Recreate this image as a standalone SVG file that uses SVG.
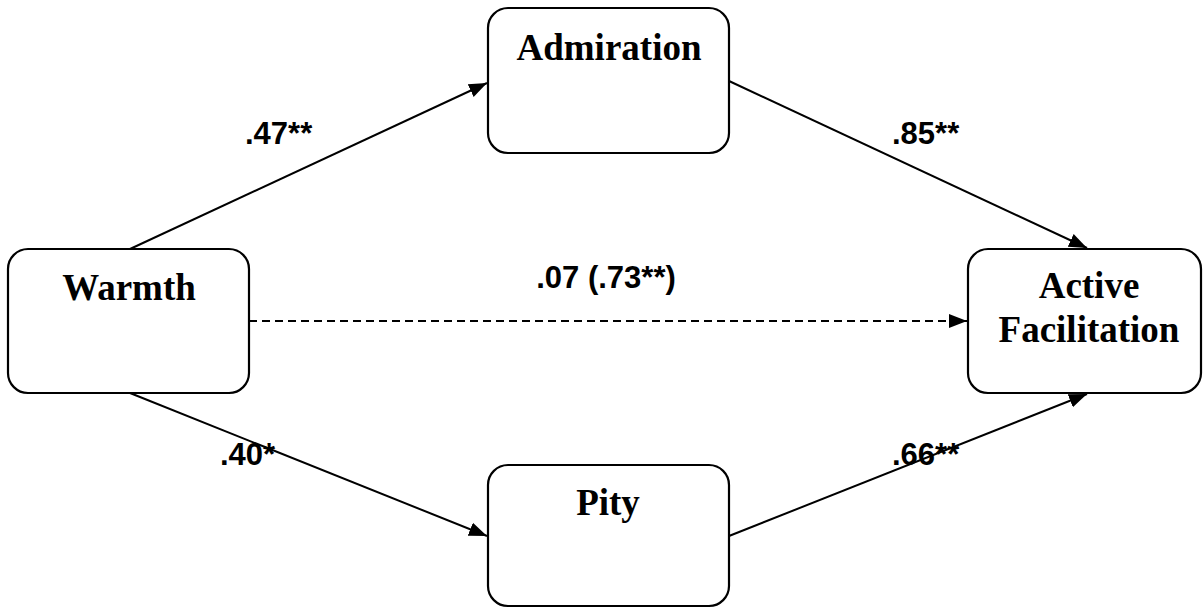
<svg xmlns="http://www.w3.org/2000/svg" width="1204" height="608" viewBox="0 0 1204 608">
  <style>
    .box { fill: #ffffff; stroke: #000000; stroke-width: 2.2; }
    .node-label { font-family: "Liberation Serif", "Times New Roman", serif; font-weight: bold; font-size: 37px; text-anchor: middle; fill: #000000; }
    .edge { stroke: #000000; stroke-width: 2; fill: none; }
    .dashed { stroke-dasharray: 8 5; }
    .coef { font-family: "Liberation Sans", Arial, sans-serif; font-weight: bold; font-size: 31px; fill: #000000; }
  </style>
  <defs>
    <marker id="arrow" markerUnits="userSpaceOnUse" markerWidth="20" markerHeight="16" refX="18" refY="8" orient="auto">
      <path d="M0,1 L18,8 L0,15 Z" fill="#000000"/>
    </marker>
  </defs>

  <g id="connectors">
    <line class="edge" x1="130" y1="249" x2="487" y2="83" marker-end="url(#arrow)"/>
    <line class="edge" x1="729" y1="81" x2="1087" y2="248" marker-end="url(#arrow)"/>
    <line class="edge" x1="130" y1="393" x2="487" y2="536" marker-end="url(#arrow)"/>
    <line class="edge" x1="729" y1="536" x2="1087" y2="394" marker-end="url(#arrow)"/>
    <line class="edge dashed" x1="249" y1="321" x2="967" y2="321" marker-end="url(#arrow)"/>
  </g>

  <g id="coefficients">
    <text class="coef" x="245" y="144">.47**</text>
    <text class="coef" x="892" y="144">.85**</text>
    <text class="coef" x="606" y="288" text-anchor="middle">.07 (.73**)</text>
    <text class="coef" x="220" y="465">.40*</text>
    <text class="coef" x="892" y="465">.66**</text>
  </g>

  <g id="warmth">
    <rect class="box" x="8" y="249" width="241" height="144" rx="20" ry="20"/>
    <text class="node-label" x="129" y="300">Warmth</text>
  </g>

  <g id="admiration">
    <rect class="box" x="488" y="8" width="241" height="145" rx="20" ry="20"/>
    <text class="node-label" x="609" y="60">Admiration</text>
  </g>

  <g id="pity">
    <rect class="box" x="488" y="465" width="241" height="141" rx="20" ry="20"/>
    <text class="node-label" x="608" y="515">Pity</text>
  </g>

  <g id="active-facilitation">
    <rect class="box" x="968" y="249" width="233" height="144" rx="20" ry="20"/>
    <text class="node-label" x="1089" y="298">Active</text>
    <text class="node-label" x="1089" y="342">Facilitation</text>
  </g>
</svg>
